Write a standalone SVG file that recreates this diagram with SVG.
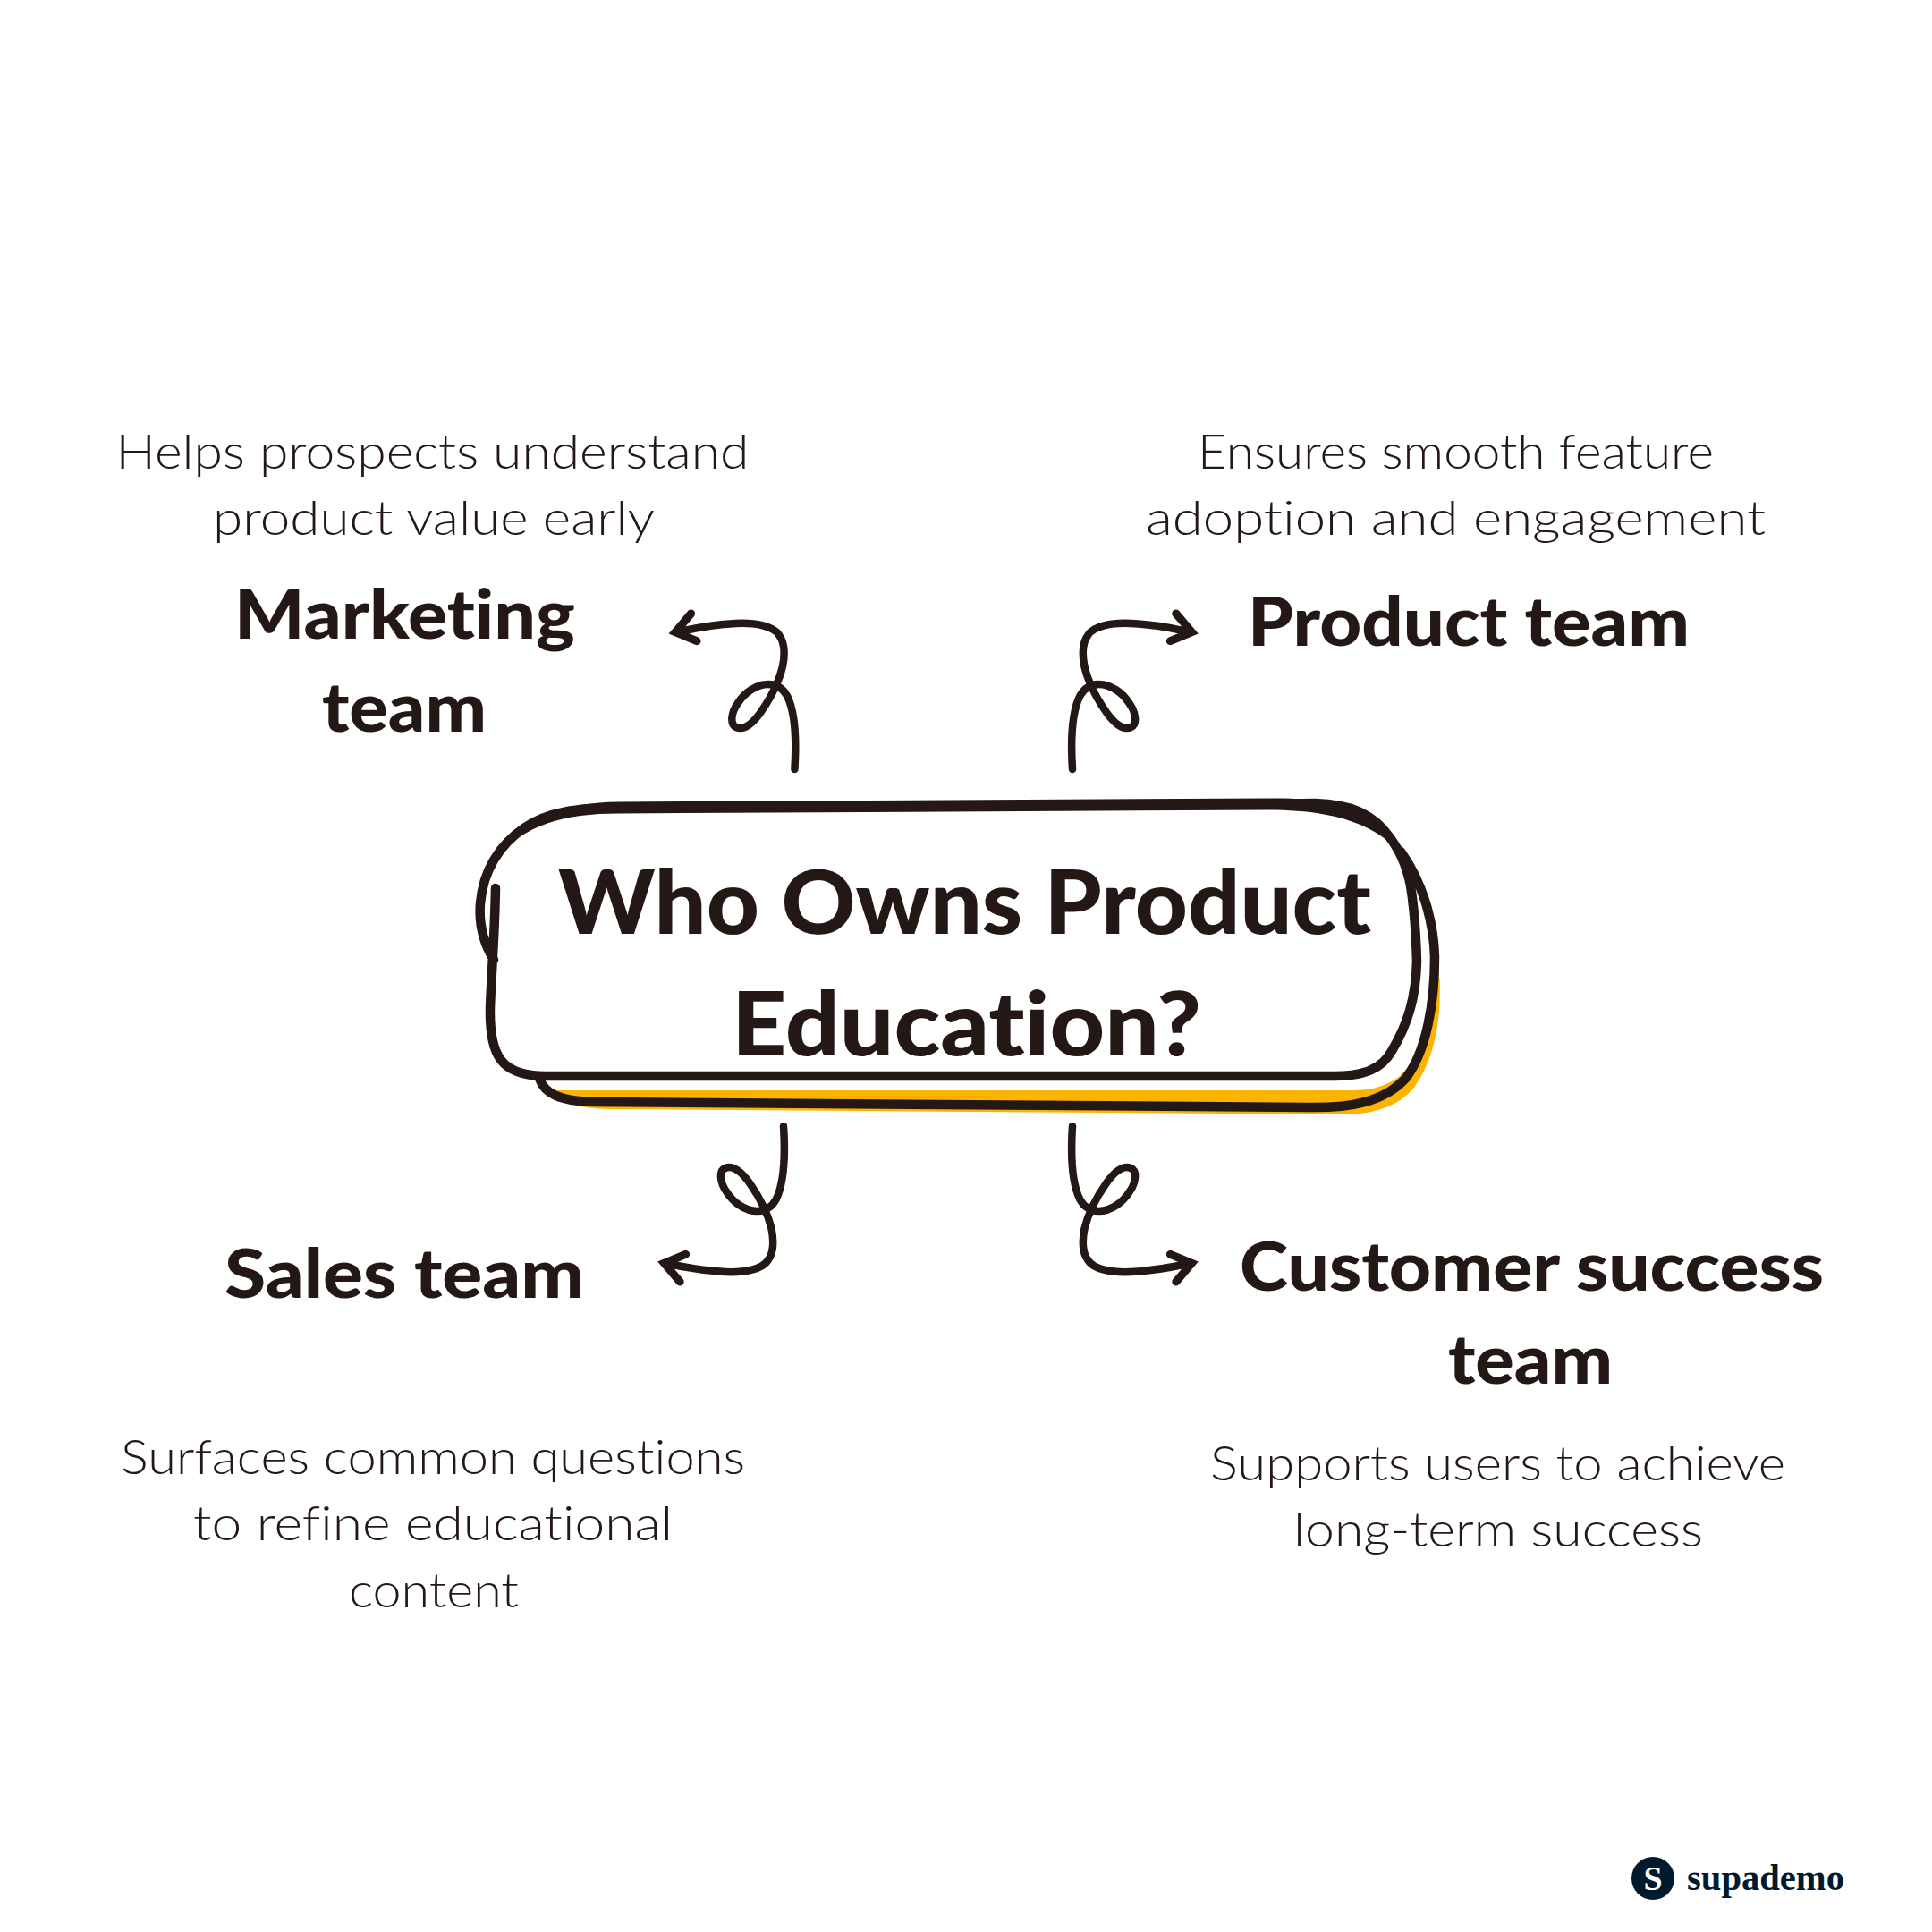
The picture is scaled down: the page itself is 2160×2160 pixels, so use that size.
<svg xmlns="http://www.w3.org/2000/svg" xmlns:xlink="http://www.w3.org/1999/xlink" width="2160" height="2160" viewBox="0 0 2160 2160">
<style>
.ink{fill:none;stroke:#231815;stroke-linecap:round;stroke-linejoin:round}
.head{fill:none;stroke:#231815;stroke-width:9;stroke-linecap:round;stroke-linejoin:miter;stroke-miterlimit:8}
.t{font-family:"Lato","Liberation Sans",sans-serif;fill:#231815;font-variant-ligatures:none}
.big{font-size:100px;font-weight:900}
.mid{font-size:76px;font-weight:900}
.sm{font-size:54px;font-weight:300}
</style>
<defs>
<g id="arrow">
<path class="ink" stroke-width="8.5" d="M888.4 860C890 835 891 800 880 778C874 767 866 765 859 765C845 765 832 775 825 786C817 797 816 810 823 813C832 817 842 808 850 797C862 780 871 762 875 745C878 730 877 718 871 710C865 700 845 696 823 697C805 698 788 700 765 705"/>
<path class="head" d="M772.6 686L755 706.7L779 716.7"/>
</g>
</defs>
<rect width="2160" height="2160" fill="#ffffff"/>
<g id="connectors">
<use xlink:href="#arrow" href="#arrow"/>
<use xlink:href="#arrow" href="#arrow" transform="matrix(-1 0 0 1 2087.4 0)"/>
<use xlink:href="#arrow" href="#arrow" transform="matrix(1 0 0 -1 -12.4 2119)"/>
<use xlink:href="#arrow" href="#arrow" transform="matrix(-1 0 0 -1 2087.4 2119)"/>
</g>
<g id="center">
<path fill="#fdb400" d="M622 1219L1513 1219C1535 1219 1550 1214 1565 1203L1590 1175L1601 1125L1606 1093L1609.500 1093C1612 1150 1600 1190 1580 1217C1560 1240 1530 1247 1491 1246L692 1240C665 1240 648 1238 640.500 1234Z"/>
<path class="ink" stroke-width="10.500" d="M603.500 1207C609 1222 625 1231 663 1232L1461 1238C1510 1239 1548 1232 1572 1205C1595 1175 1604 1120 1604 1070C1603 1030 1590 985 1566 952"/>
<path fill="#ffffff" class="ink" stroke-width="10.500" d="M554 993C553 1050 549 1095 548 1127C547 1180 560 1203 610 1203L1491 1203C1525 1203 1545 1195 1556 1175C1574 1145 1583 1115 1584 1075C1583 1040 1581 1015 1577 990C1572 965 1564 950 1553 935C1535 910 1510 899 1470 898L1417 899L692 903C645 903 612 908 587 925C557 945 540 975 537 1010C535 1035 541 1055 552 1073"/>
<path fill="#231815" d="M553 960C572 922 625 896.500 692 896.500L1417 892.500C1498 891 1538 907 1565 952C1533 920 1490 905.500 1417 905.500L692 909.500C630 909.500 587 922 553 960Z"/>
<text class="t big" x="624" y="1044" textLength="909" lengthAdjust="spacingAndGlyphs">Who Owns Product</text>
<text class="t big" x="818" y="1180" textLength="525" lengthAdjust="spacingAndGlyphs">Education?</text>
</g>
<g id="marketing">
<text class="t sm" x="129.500" y="523.500" textLength="708" lengthAdjust="spacingAndGlyphs">Helps prospects understand</text>
<text class="t sm" x="238" y="598" textLength="494" lengthAdjust="spacingAndGlyphs">product value early</text>
<text class="t mid" x="262" y="714" textLength="381" lengthAdjust="spacingAndGlyphs">Marketing</text>
<text class="t mid" x="360" y="818" textLength="184" lengthAdjust="spacingAndGlyphs">team</text>
</g>
<g id="product">
<text class="t sm" x="1339" y="523.500" textLength="577" lengthAdjust="spacingAndGlyphs">Ensures smooth feature</text>
<text class="t sm" x="1281" y="598" textLength="693" lengthAdjust="spacingAndGlyphs">adoption and engagement</text>
<text class="t mid" x="1395" y="722" textLength="494" lengthAdjust="spacingAndGlyphs">Product team</text>
</g>
<g id="sales">
<text class="t mid" x="251" y="1451" textLength="402" lengthAdjust="spacingAndGlyphs">Sales team</text>
<text class="t sm" x="135" y="1647.500" textLength="698" lengthAdjust="spacingAndGlyphs">Surfaces common questions</text>
<text class="t sm" x="216" y="1722" textLength="536" lengthAdjust="spacingAndGlyphs">to refine educational</text>
<text class="t sm" x="390" y="1796.500" textLength="190" lengthAdjust="spacingAndGlyphs">content</text>
</g>
<g id="customer">
<text class="t mid" x="1386" y="1443" textLength="653" lengthAdjust="spacingAndGlyphs">Customer success</text>
<text class="t mid" x="1619" y="1547" textLength="184" lengthAdjust="spacingAndGlyphs">team</text>
<text class="t sm" x="1353" y="1654.500" textLength="643" lengthAdjust="spacingAndGlyphs">Supports users to achieve</text>
<text class="t sm" x="1446" y="1729" textLength="458" lengthAdjust="spacingAndGlyphs">long-term success</text>
</g>
<g id="logo">
<circle cx="1848" cy="2100" r="24" fill="#021a2e"/>
<text x="1848" y="2113" text-anchor="middle" font-family="'Liberation Serif',serif" font-weight="700" font-size="38" fill="#ffffff">S</text>
<text x="1886" y="2113" textLength="176" lengthAdjust="spacingAndGlyphs" font-family="'Liberation Serif',serif" font-weight="700" font-size="42" fill="#021a2e">supademo</text>
</g>
</svg>
